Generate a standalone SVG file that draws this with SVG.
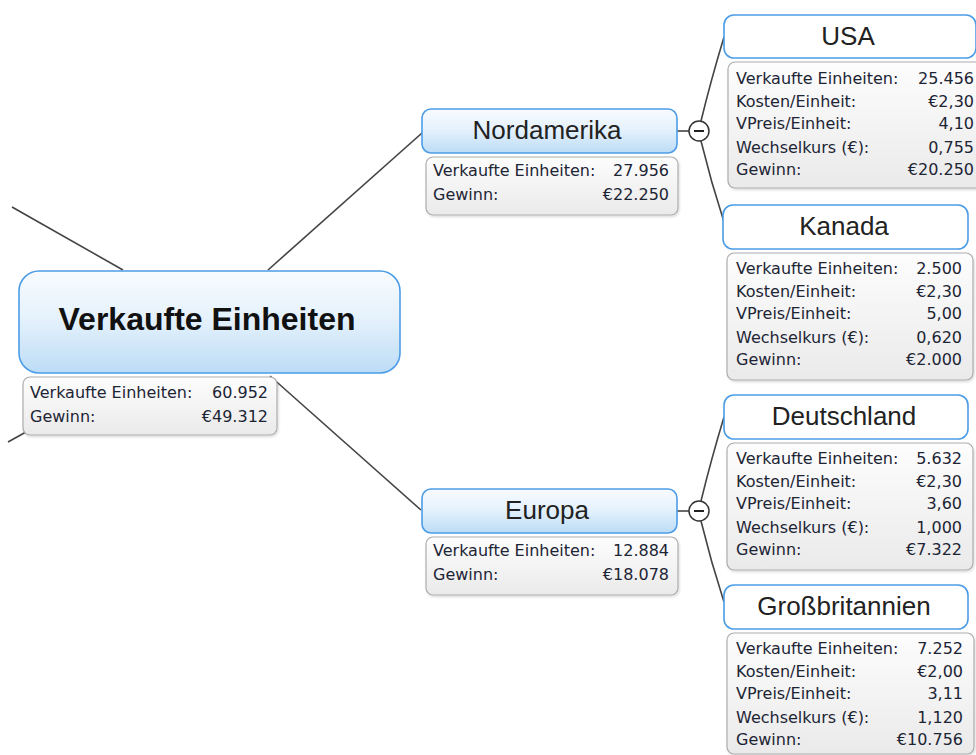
<svg xmlns="http://www.w3.org/2000/svg" width="976" height="755" viewBox="0 0 976 755">
<defs>
<linearGradient id="gBlue" x1="0" y1="0" x2="0" y2="1">
<stop offset="0" stop-color="#f8fbff"/>
<stop offset="0.45" stop-color="#e6f2fc"/>
<stop offset="1" stop-color="#bcdcf6"/>
</linearGradient>
<linearGradient id="gInfo" x1="0" y1="0" x2="0" y2="1">
<stop offset="0" stop-color="#fdfdfd"/>
<stop offset="1" stop-color="#eaeaea"/>
</linearGradient>
<filter id="sh" x="-5%" y="-10%" width="110%" height="130%">
<feDropShadow dx="1" dy="1.5" stdDeviation="1" flood-color="#000" flood-opacity="0.15"/>
</filter>
</defs>
<style>
.conn{fill:none;stroke:#444;stroke-width:1.6}
.main{fill:url(#gBlue);stroke:#4c9de6;stroke-width:1.6}
.sub{fill:#fff;stroke:#4c9de6;stroke-width:1.6}
.info{fill:url(#gInfo);stroke:#adadad;stroke-width:1.2}
.t{font-family:"Liberation Sans",Arial,sans-serif;font-size:26px;fill:#222;text-anchor:middle}
.tb{font-family:"Liberation Sans",Arial,sans-serif;font-size:32px;font-weight:bold;fill:#111;text-anchor:middle}
.l{font-family:"DejaVu Sans",Verdana,sans-serif;font-size:16px;fill:#1d2535}
.v{font-family:"DejaVu Sans",Verdana,sans-serif;font-size:16px;fill:#1d2535;text-anchor:end}
.col{fill:#fff;stroke:#333;stroke-width:1.5}
.minus{stroke:#222;stroke-width:2}
</style>

<g id="connectors">
<path class="conn" d="M12,207 L123,270"/>
<path class="conn" d="M8,442 L26,432"/>
<path class="conn" d="M268,270 L422,133"/>
<path class="conn" d="M270,376 L421,510"/>
<path class="conn" d="M677,131 L689,131"/>
<path class="conn" d="M701,121 Q711,80 724,37"/>
<path class="conn" d="M701,141 Q711,182 724,222"/>
<path class="conn" d="M677,511 L689,511"/>
<path class="conn" d="M701,501 Q711,460 724,417"/>
<path class="conn" d="M701,521 Q711,562 724,602"/>
</g>

<g id="node-root">
<rect class="main" x="19" y="271" width="381" height="102" rx="20"/>
<text class="tb" x="207" y="330">Verkaufte Einheiten</text>
<rect class="info" filter="url(#sh)" x="23" y="377" width="254" height="58" rx="7"/>
<text class="l" x="30" y="398">Verkaufte Einheiten:</text>
<text class="v" x="268" y="398">60.952</text>
<text class="l" x="30" y="422">Gewinn:</text>
<text class="v" x="268" y="422">€49.312</text>
</g>

<g id="node-nordamerika">
<rect class="main" x="422" y="109" width="255" height="44" rx="9"/>
<text class="t" x="547" y="139">Nordamerika</text>
<rect class="info" filter="url(#sh)" x="426" y="157" width="252" height="58" rx="7"/>
<text class="l" x="433" y="176">Verkaufte Einheiten:</text>
<text class="v" x="669" y="176">27.956</text>
<text class="l" x="433" y="200">Gewinn:</text>
<text class="v" x="669" y="200">€22.250</text>
<circle class="col" cx="699" cy="131" r="10"/>
<line class="minus" x1="694" y1="131" x2="704" y2="131"/>
</g>

<g id="node-europa">
<rect class="main" x="422" y="489" width="255" height="44" rx="9"/>
<text class="t" x="547" y="519">Europa</text>
<rect class="info" filter="url(#sh)" x="426" y="537" width="252" height="58" rx="7"/>
<text class="l" x="433" y="556">Verkaufte Einheiten:</text>
<text class="v" x="669" y="556">12.884</text>
<text class="l" x="433" y="580">Gewinn:</text>
<text class="v" x="669" y="580">€18.078</text>
<circle class="col" cx="699" cy="511" r="10"/>
<line class="minus" x1="694" y1="511" x2="704" y2="511"/>
</g>

<g id="node-usa">
<rect class="sub" x="724" y="15" width="252" height="43" rx="10"/>
<text class="t" x="848" y="45">USA</text>
<rect class="info" filter="url(#sh)" x="728" y="62" width="258" height="126" rx="7"/>
<text class="l" x="736" y="84">Verkaufte Einheiten:</text>
<text class="v" x="974" y="84">25.456</text>
<text class="l" x="736" y="107">Kosten/Einheit:</text>
<text class="v" x="974" y="107">€2,30</text>
<text class="l" x="736" y="129">VPreis/Einheit:</text>
<text class="v" x="974" y="129">4,10</text>
<text class="l" x="736" y="153">Wechselkurs (€):</text>
<text class="v" x="974" y="153">0,755</text>
<text class="l" x="736" y="175">Gewinn:</text>
<text class="v" x="974" y="175">€20.250</text>
</g>

<g id="node-kanada">
<rect class="sub" x="723" y="205" width="245" height="44" rx="10"/>
<text class="t" x="844" y="235">Kanada</text>
<rect class="info" filter="url(#sh)" x="727" y="253" width="246" height="127" rx="7"/>
<text class="l" x="736" y="274">Verkaufte Einheiten:</text>
<text class="v" x="962" y="274">2.500</text>
<text class="l" x="736" y="297">Kosten/Einheit:</text>
<text class="v" x="962" y="297">€2,30</text>
<text class="l" x="736" y="319">VPreis/Einheit:</text>
<text class="v" x="962" y="319">5,00</text>
<text class="l" x="736" y="343">Wechselkurs (€):</text>
<text class="v" x="962" y="343">0,620</text>
<text class="l" x="736" y="365">Gewinn:</text>
<text class="v" x="962" y="365">€2.000</text>
</g>

<g id="node-deutschland">
<rect class="sub" x="724" y="395" width="244" height="44" rx="10"/>
<text class="t" x="844" y="425">Deutschland</text>
<rect class="info" filter="url(#sh)" x="727" y="443" width="246" height="127" rx="7"/>
<text class="l" x="736" y="464">Verkaufte Einheiten:</text>
<text class="v" x="962" y="464">5.632</text>
<text class="l" x="736" y="487">Kosten/Einheit:</text>
<text class="v" x="962" y="487">€2,30</text>
<text class="l" x="736" y="509">VPreis/Einheit:</text>
<text class="v" x="962" y="509">3,60</text>
<text class="l" x="736" y="533">Wechselkurs (€):</text>
<text class="v" x="962" y="533">1,000</text>
<text class="l" x="736" y="555">Gewinn:</text>
<text class="v" x="962" y="555">€7.322</text>
</g>

<g id="node-grossbritannien">
<rect class="sub" x="724" y="585" width="244" height="44" rx="10"/>
<text class="t" x="844" y="615">Großbritannien</text>
<rect class="info" filter="url(#sh)" x="727" y="633" width="247" height="121" rx="7"/>
<text class="l" x="736" y="654">Verkaufte Einheiten:</text>
<text class="v" x="963" y="654">7.252</text>
<text class="l" x="736" y="677">Kosten/Einheit:</text>
<text class="v" x="963" y="677">€2,00</text>
<text class="l" x="736" y="699">VPreis/Einheit:</text>
<text class="v" x="963" y="699">3,11</text>
<text class="l" x="736" y="723">Wechselkurs (€):</text>
<text class="v" x="963" y="723">1,120</text>
<text class="l" x="736" y="745">Gewinn:</text>
<text class="v" x="963" y="745">€10.756</text>
</g>
</svg>
